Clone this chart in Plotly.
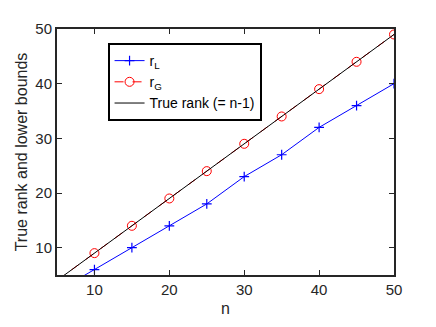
import plotly.graph_objects as go

n_vals = [5, 10, 15, 20, 25, 30, 35, 40, 45, 50]
r_L = [2, 6, 10, 14, 18, 23, 27, 32, 36, 40]
r_G = [4, 9, 14, 19, 24, 29, 34, 39, 44, 49]
true_rank = [4, 9, 14, 19, 24, 29, 34, 39, 44, 49]
x_ticks = [10, 20, 30, 40, 50]
y_ticks = [10, 20, 30, 40, 50]

font = "Liberation Sans, Arial, sans-serif"
axc = "#262626"

fig = go.Figure()
fig.add_trace(go.Scatter(
    x=n_vals, y=r_L, mode="lines+markers", name="r<sub>L</sub>",
    line=dict(color="#0000ff", width=1),
    marker=dict(symbol="cross-thin", size=7, line=dict(color="#0000ff", width=1.2)),
))
fig.add_trace(go.Scatter(
    x=n_vals, y=r_G, mode="lines+markers", name="r<sub>G</sub>",
    line=dict(color="#ff0000", width=1, dash="dash"),
    marker=dict(symbol="circle-open", size=9, color="#ff0000", line=dict(color="#ff0000", width=1)),
))
fig.add_trace(go.Scatter(
    x=n_vals, y=true_rank, mode="lines", name="True rank (= n-1)",
    line=dict(color="#000000", width=1),
))

fig.update_layout(
    width=428, height=319,
    margin=dict(l=49, r=42, t=16, b=51),
    paper_bgcolor="white", plot_bgcolor="white",
    font=dict(family=font, size=14, color=axc),
    showlegend=True,
    legend=dict(
        x=0.15, y=0.943, xanchor="left", yanchor="top",
        bordercolor="#000000", borderwidth=2, bgcolor="white",
        font=dict(family=font, size=14, color="#000000"),
        tracegroupgap=0, itemwidth=30,
    ),
)
fig.update_xaxes(
    range=[5, 50], tickvals=x_ticks, ticks="inside", ticklen=5, tickwidth=1,
    tickcolor=axc, showline=True, linecolor=axc, linewidth=2, mirror="ticks",
    showgrid=False, zeroline=False,
    title=dict(text="n", font=dict(size=16, color=axc), standoff=6),
    tickfont=dict(size=15, color=axc),
)
fig.update_yaxes(
    range=[5, 50], tickvals=y_ticks, ticks="inside", ticklen=5, tickwidth=1,
    tickcolor=axc, showline=True, linecolor=axc, linewidth=2, mirror="ticks",
    showgrid=False, zeroline=False,
    title=dict(text="True rank and lower bounds", font=dict(size=16, color=axc), standoff=4),
    tickfont=dict(size=15, color=axc),
)

fig.write_html("out.html")
